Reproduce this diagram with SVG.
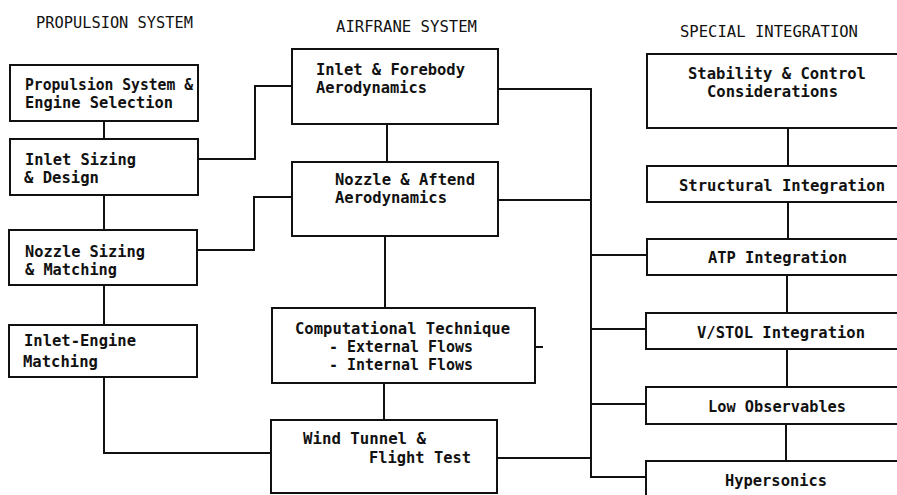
<svg xmlns="http://www.w3.org/2000/svg" width="897" height="495" viewBox="0 0 897 495">
<style>
.box{fill:#fff;stroke:#111;stroke-width:2}
.c{fill:none;stroke:#111;stroke-width:2}
.t{font-family:"DejaVu Sans Mono","Liberation Mono",monospace;font-size:15px;font-weight:bold;fill:#111}
.h{font-family:"DejaVu Sans Mono","Liberation Mono",monospace;font-size:15px;fill:#111}
</style>
<rect width="897" height="495" fill="#fff"/>
<g id="titles">
<text class="h" x="36" y="28" textLength="157" lengthAdjust="spacingAndGlyphs">PROPULSION SYSTEM</text>
<text class="h" x="336" y="32" textLength="141" lengthAdjust="spacingAndGlyphs">AIRFRANE SYSTEM</text>
<text class="h" x="680" y="37" textLength="178" lengthAdjust="spacingAndGlyphs">SPECIAL INTEGRATION</text>
</g>
<g id="connectors">
<path class="c" d="M104,121V139M104,195V230M104,285V325"/>
<path class="c" d="M104,377V453H271"/>
<path class="c" d="M198,159H255V86H292"/>
<path class="c" d="M197,250H254V197H292"/>
<path class="c" d="M387,124V162M385,236V308M384,383V420"/>
<path class="c" d="M535,347H543"/>
<path class="c" d="M498,89H591V477H646"/>
<path class="c" d="M498,200H591M497,458H591"/>
<path class="c" d="M591,255H647M591,329H646M591,404H646"/>
<path class="c" d="M788,128V166M788,202V238M787,275V313M787,349V387M786,424V461"/>
</g>
<g id="n-propulsion-selection">
<rect class="box" x="10" y="65" width="188" height="56"/>
<text class="t" x="25" y="90" textLength="168" lengthAdjust="spacingAndGlyphs">Propulsion System &amp;</text>
<text class="t" x="25" y="108" textLength="148" lengthAdjust="spacingAndGlyphs">Engine Selection</text>
</g>
<g id="n-inlet-sizing">
<rect class="box" x="10" y="139" width="188" height="56"/>
<text class="t" x="25" y="165" textLength="111" lengthAdjust="spacingAndGlyphs">Inlet Sizing</text>
<text class="t" x="24" y="183" textLength="75" lengthAdjust="spacingAndGlyphs">&amp; Design</text>
</g>
<g id="n-nozzle-sizing">
<rect class="box" x="9" y="230" width="188" height="55"/>
<text class="t" x="25" y="257" textLength="120" lengthAdjust="spacingAndGlyphs">Nozzle Sizing</text>
<text class="t" x="25" y="275" textLength="92" lengthAdjust="spacingAndGlyphs">&amp; Matching</text>
</g>
<g id="n-inlet-engine">
<rect class="box" x="9" y="325" width="188" height="52"/>
<text class="t" x="24" y="346" textLength="112" lengthAdjust="spacingAndGlyphs">Inlet-Engine</text>
<text class="t" x="23" y="367" textLength="75" lengthAdjust="spacingAndGlyphs">Matching</text>
</g>
<g id="n-inlet-forebody">
<rect class="box" x="292" y="49" width="206" height="75"/>
<text class="t" x="316" y="75" textLength="149" lengthAdjust="spacingAndGlyphs">Inlet &amp; Forebody</text>
<text class="t" x="316" y="93" textLength="111" lengthAdjust="spacingAndGlyphs">Aerodynamics</text>
</g>
<g id="n-nozzle-aftend">
<rect class="box" x="292" y="162" width="206" height="74"/>
<text class="t" x="335" y="185" textLength="140" lengthAdjust="spacingAndGlyphs">Nozzle &amp; Aftend</text>
<text class="t" x="335" y="203" textLength="112" lengthAdjust="spacingAndGlyphs">Aerodynamics</text>
</g>
<g id="n-computational">
<rect class="box" x="272" y="308" width="263" height="75"/>
<text class="t" x="295" y="334" textLength="215" lengthAdjust="spacingAndGlyphs">Computational Technique</text>
<text class="t" x="329" y="352" textLength="144" lengthAdjust="spacingAndGlyphs">- External Flows</text>
<text class="t" x="329" y="370" textLength="144" lengthAdjust="spacingAndGlyphs">- Internal Flows</text>
</g>
<g id="n-wind-tunnel">
<rect class="box" x="271" y="420" width="226" height="73"/>
<text class="t" x="303" y="444" textLength="123" lengthAdjust="spacingAndGlyphs">Wind Tunnel &amp;</text>
<text class="t" x="369" y="463" textLength="102" lengthAdjust="spacingAndGlyphs">Flight Test</text>
</g>
<g id="n-stability">
<rect class="box" x="647" y="54" width="270" height="74"/>
<text class="t" x="688" y="79" textLength="178" lengthAdjust="spacingAndGlyphs">Stability &amp; Control</text>
<text class="t" x="707" y="97" textLength="131" lengthAdjust="spacingAndGlyphs">Considerations</text>
</g>
<g id="n-structural">
<rect class="box" x="647" y="166" width="270" height="36"/>
<text class="t" x="679" y="191" textLength="206" lengthAdjust="spacingAndGlyphs">Structural Integration</text>
</g>
<g id="n-atp">
<rect class="box" x="647" y="239" width="270" height="36"/>
<text class="t" x="708" y="263" textLength="139" lengthAdjust="spacingAndGlyphs">ATP Integration</text>
</g>
<g id="n-vstol">
<rect class="box" x="646" y="313" width="270" height="36"/>
<text class="t" x="697" y="338" textLength="168" lengthAdjust="spacingAndGlyphs">V/STOL Integration</text>
</g>
<g id="n-low-observables">
<rect class="box" x="646" y="387" width="270" height="37"/>
<text class="t" x="708" y="412" textLength="138" lengthAdjust="spacingAndGlyphs">Low Observables</text>
</g>
<g id="n-hypersonics">
<rect class="box" x="646" y="461" width="270" height="60"/>
<text class="t" x="725" y="486" textLength="102" lengthAdjust="spacingAndGlyphs">Hypersonics</text>
</g>
</svg>
